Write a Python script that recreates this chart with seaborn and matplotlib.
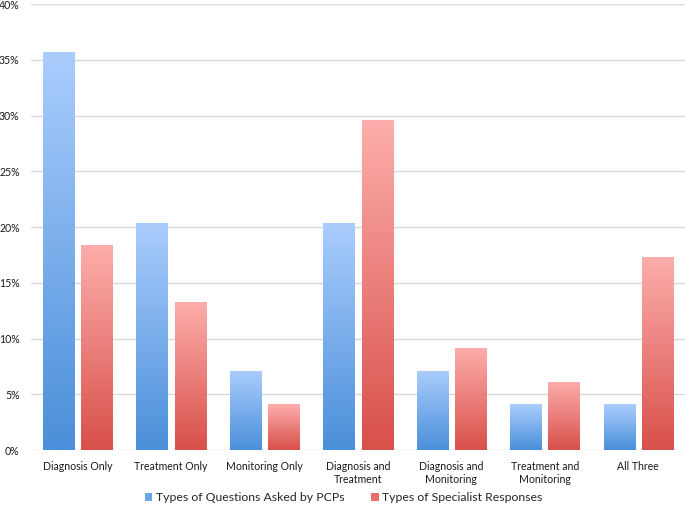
import numpy as np
import pandas as pd
import seaborn as sns
import matplotlib
matplotlib.use("Agg")
import matplotlib.pyplot as plt
from matplotlib.colors import LinearSegmentedColormap
from matplotlib.patches import Patch
import matplotlib.ticker as ticker

categories = ["Diagnosis Only", "Treatment Only", "Monitoring Only",
              "Diagnosis and\nTreatment", "Diagnosis and\nMonitoring",
              "Treatment and\nMonitoring", "All Three"]
series = ["Types of Questions Asked by PCPs", "Types of Specialist Responses"]
pcp_pct = [35.7, 20.4, 7.1, 20.4, 7.1, 4.1, 4.1]
spec_pct = [18.4, 13.3, 4.1, 29.6, 9.2, 6.1, 17.3]

# top (light) -> bottom (dark) colours of the bar gradients
grad_colors = {
    series[0]: ("#abcdfd", "#4a8fda"),
    series[1]: ("#fdaeac", "#d8504a"),
}

sns.set_style("white")
plt.rcParams['font.family'] = ['Lato', 'DejaVu Sans']

df = pd.DataFrame({
    "Category": categories * 2,
    "Value": pcp_pct + spec_pct,
    "Series": [series[0]] * len(categories) + [series[1]] * len(categories),
})

fig = plt.figure(figsize=(6.85, 5.08), dpi=100)
ax = fig.add_axes([0.045, 0.114, 0.955, 0.878])

mid = {s: grad_colors[s][1] for s in series}
sns.barplot(data=df, x="Category", y="Value", hue="Series", hue_order=series,
            palette=mid, width=0.82, gap=0.19, ax=ax, legend=False, zorder=2)

# paint each bar with a vertical gradient clipped to the bar shape
for container, s in zip(ax.containers, series):
    cmap = LinearSegmentedColormap.from_list(s, [grad_colors[s][1], grad_colors[s][0]])
    grad = np.linspace(0, 1, 256).reshape(-1, 1)
    for bar in container:
        x0, y0 = bar.get_x(), bar.get_y()
        w, h = bar.get_width(), bar.get_height()
        bar.set_facecolor("none")
        bar.set_edgecolor("none")
        im = ax.imshow(grad, cmap=cmap, origin="lower", aspect="auto",
                       extent=[x0, x0 + w, y0, y0 + h], zorder=3)
        im.set_clip_path(bar)

ax.set_xlim(-0.5, len(categories) - 0.5)
ax.set_ylim(0, 40)
ax.yaxis.set_major_locator(ticker.MultipleLocator(5))
ax.yaxis.set_major_formatter(ticker.FuncFormatter(lambda v, p: f"{v:.0f}%"))
ax.grid(axis="y", color="#d9d9d9", linewidth=1, zorder=0)
ax.set_axisbelow(True)
for sp in ax.spines.values():
    sp.set_visible(False)
ax.set_xlabel("")
ax.set_ylabel("")
ax.tick_params(axis="both", length=0, labelsize=7.6, colors="#1a1a1a")
ax.tick_params(axis="x", pad=8)
ax.tick_params(axis="y", pad=8)

handles = [Patch(facecolor="#6aa6e8", edgecolor="none"),
           Patch(facecolor="#e96f6a", edgecolor="none")]
fig.legend(handles, series, loc="lower center", bbox_to_anchor=(0.502, -0.012),
           ncol=2, frameon=False, fontsize=8.8, handlelength=0.6, handleheight=0.6,
           handletextpad=0.3, columnspacing=2.2)

fig.savefig("out.png", dpi=100)
